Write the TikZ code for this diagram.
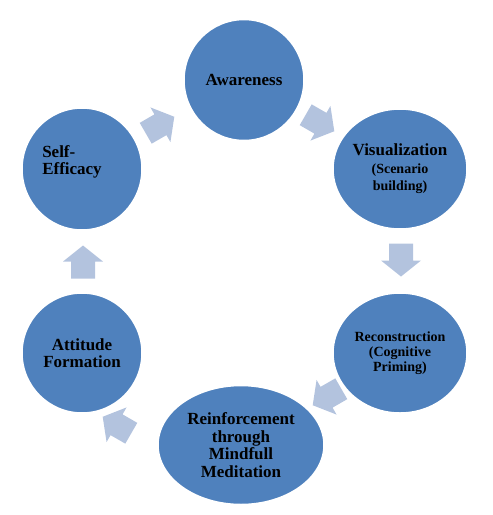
\documentclass[tikz,border=0pt]{standalone}
\usepackage{fontspec}
\setmainfont{Liberation Serif}
\usetikzlibrary{shapes.geometric}
\definecolor{nodeblue}{RGB}{79,129,189}
\definecolor{arrowblue}{RGB}{179,195,222}
\begin{document}
\begin{tikzpicture}[x=1pt,y=-1pt,
  stage/.style={ellipse, fill=nodeblue, draw=white, line width=2.5pt, inner sep=0pt, align=center,
    font=\fontsize{17}{17.5}\selectfont\bfseries},
  smalltxt/.style={font=\fontsize{14}{15}\selectfont\bfseries},
  blockarrow/.pic={\fill[arrowblue] (-16.5,-12) -- (0.5,-12) -- (0.5,-20) -- (16.5,0) -- (0.5,20) -- (0.5,12) -- (-16.5,12) -- cycle;}]
\useasboundingbox (0,0) rectangle (493,515);
% arrow positions
\coordinate (a1) at (160,125);
\coordinate (a2) at (320,123);
\coordinate (a3) at (401,260);
\coordinate (a4) at (327,397);
\coordinate (a5) at (117,425);
\coordinate (a6) at (83,262);
\pic[rotate=30] at (a1) {blockarrow};
\pic[rotate=-30] at (a2) {blockarrow};
\pic[rotate=-90] at (a3) {blockarrow};
\pic[rotate=-150] at (a4) {blockarrow};
\pic[rotate=150] at (a5) {blockarrow};
\pic[rotate=90] at (a6) {blockarrow};
% stages
\node[stage, minimum width=121pt, minimum height=122pt] (aw) at (244,80) {Awareness};
\node[stage, minimum width=135pt, minimum height=121pt] (vis) at (400,169)
  {Visualization\\{\fontsize{14}{16}\selectfont(Scenario}\\{\fontsize{14}{16}\selectfont building)}};
\node[stage, minimum width=135pt, minimum height=121pt, smalltxt] (rec) at (400,353)
  {Reconstruction\\(Cognitive\\Priming)};
\node[stage, minimum width=167pt, minimum height=120pt] (rein) at (241,445)
  {Reinforcement\\through\\Mindfull\\Meditation};
\node[stage, minimum width=121pt, minimum height=121pt] (att) at (82,353)
  {Attitude\\Formation};
\node[stage, minimum width=121pt, minimum height=123pt] (se) at (82,169) {};
\node[align=left, inner sep=0pt, font=\fontsize{17}{17.5}\selectfont\bfseries] (setext) at (72,162)
  {Self-\\Efficacy};
\end{tikzpicture}
\end{document}
